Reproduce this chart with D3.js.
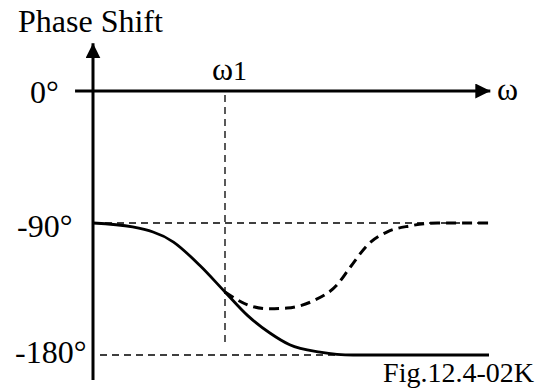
<!DOCTYPE html>
<html><head><meta charset="utf-8">
<script src="https://cdn.jsdelivr.net/npm/d3@7"></script>
<style>body{margin:0;background:#fff}svg{display:block}</style>
</head><body>
<script>
// data: omega in units of omega1, phase in degrees
const yTickValues = [0, -90, -180];
const yTickLabels = ["0°", "-90°", "-180°"];
const omega1 = 1;
const solidOmega = [0, 0.30, 0.61, 0.81, 1.0, 1.17, 1.34, 1.49, 1.72, 1.97, 3.0];
const solidPhase = [-90, -92.7, -103, -119, -137, -153, -165, -173, -178, -180, -180];
const dashOmega = [1.0, 1.21, 1.34, 1.47, 1.67, 1.85, 1.95, 2.08, 2.23, 2.40, 2.61, 3.0];
const dashPhase = [-137, -147, -148.5, -148, -143, -132, -120, -105, -96, -92, -90, -90];

const FONT = "'Liberation Serif', 'Times New Roman', Times, 'DejaVu Serif', serif";
const W = 539, H = 390;
const svg = d3.select("body").append("svg").attr("width", W).attr("height", H);
const x = d3.scaleLinear().domain([0, 3]).range([93, 489]);
const y = d3.scaleLinear().domain([0, -180]).range([91, 355]);

const defs = svg.append("defs");
defs.append("marker").attr("id","ah").attr("viewBox","0 0 10 10").attr("refX",10).attr("refY",5)
  .attr("markerWidth",15).attr("markerHeight",15).attr("markerUnits","userSpaceOnUse").attr("orient","auto")
  .append("path").attr("d","M0,0 L10,5 L0,10 Z").attr("fill","#000");

// reference dashed lines
[-90, -180].forEach(v => {
  svg.append("line").attr("x1", v === -90 ? x(0) : x(0) + 7).attr("x2", x(3))
    .attr("y1", y(v)).attr("y2", y(v))
    .attr("stroke","#000").attr("stroke-width",1.3).attr("stroke-dasharray","7,5");
});
svg.append("line").attr("x1", x(omega1)).attr("x2", x(omega1)).attr("y1", y(0)+4).attr("y2", y(-180)-8)
  .attr("stroke","#000").attr("stroke-width",1.3).attr("stroke-dasharray","7,5");

// axes
svg.append("line").attr("x1", x(-0.136)).attr("x2", x(3.01)).attr("y1", y(0)).attr("y2", y(0))
  .attr("stroke","#000").attr("stroke-width",3).attr("marker-end","url(#ah)");
svg.append("line").attr("x1", x(0)).attr("x2", x(0)).attr("y1", y(-197)).attr("y2", y(32.5))
  .attr("stroke","#000").attr("stroke-width",3).attr("marker-end","url(#ah)");

// curves
const line = d3.line().x(d => x(d[0])).y(d => y(d[1])).curve(d3.curveMonotoneX);
svg.append("path").attr("d", line(d3.zip(solidOmega, solidPhase)))
  .attr("fill","none").attr("stroke","#000").attr("stroke-width",2.8);
svg.append("path").attr("d", line(d3.zip(dashOmega, dashPhase)))
  .attr("fill","none").attr("stroke","#000").attr("stroke-width",3).attr("stroke-dasharray","10,6");

// labels
const fs = 32;
const labelX = [30, 17, 15];
const labelDy = [12, 14, 8];
function txt(xp, yp, s, size) {
  return svg.append("text").attr("x", xp).attr("y", yp).attr("font-family", FONT)
    .attr("font-size", size).attr("fill", "#000").text(s);
}
yTickValues.forEach((v, i) => txt(labelX[i], y(v) + labelDy[i], yTickLabels[i], fs));
txt(18, 32, "Phase Shift", fs);
txt(497, y(0) + 9, "ω", fs);
const t1 = txt(212, 80, "ω", fs);
t1.append("tspan").attr("font-size", 28).text("1");
txt(534, 382, "Fig.12.4-02K", 28).attr("text-anchor", "end");
</script>
</body></html>
